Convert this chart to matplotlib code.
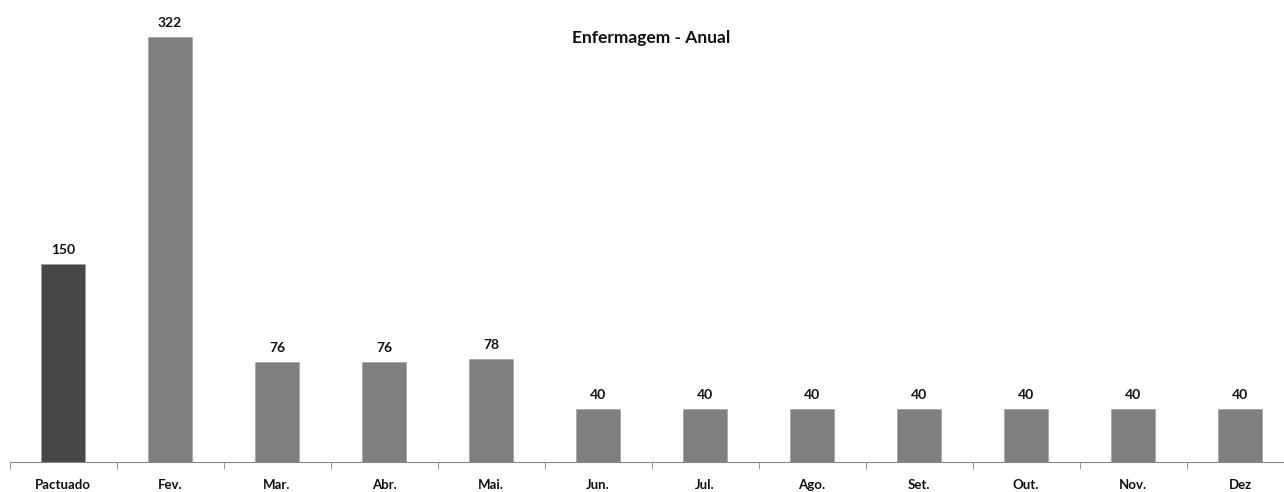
import matplotlib
matplotlib.use("Agg")
import matplotlib.pyplot as plt
import numpy as np

categorias = ["Pactuado", "Fev.", "Mar.", "Abr.", "Mai.", "Jun.", "Jul.", "Ago.", "Set.", "Out.", "Nov.", "Dez"]
valores = [150, 322, 76, 76, 78, 40, 40, 40, 40, 40, 40, 40]
titulo = "Enfermagem - Anual"

plt.rcParams['font.family'] = ['Lato', 'DejaVu Sans']

fig = plt.figure(figsize=(12.84, 4.92), dpi=100)
ax = fig.add_axes([9.5 / 1284, 30 / 492, 1.0, 462 / 492])

x = np.arange(len(categorias))
cores = ['#474747'] + ['#7f7f7f'] * (len(categorias) - 1)
ax.bar(x, valores, width=0.41, color=cores, edgecolor='#9a9a9a', linewidth=0.4)

for xi, v in zip(x, valores):
    ax.text(xi, v + 6, str(v), ha='center', va='bottom', fontsize=10, fontweight='bold', color='#111111')

ax.set_xlim(-0.5, len(categorias) - 0.5)
ax.set_ylim(0, 350)
ax.set_xticks(x)
ax.set_xticklabels(categorias, fontsize=9.5, fontweight='bold', color='#111111')
ax.tick_params(axis='x', length=0, pad=12)
ax.set_xticks(np.arange(len(categorias) + 1) - 0.5, minor=True)
ax.tick_params(axis='x', which='minor', length=5, color='#888888', direction='out')
ax.set_yticks([])
for s in ['top', 'right', 'left']:
    ax.spines[s].set_visible(False)
ax.spines['bottom'].set_color('#888888')
ax.spines['bottom'].set_linewidth(0.8)

ax.text(0.5, 1 - 38 / 462, titulo, transform=ax.transAxes, ha='center', va='center',
        fontsize=12.5, fontweight='bold', color='#111111')
ax.patch.set_alpha(0)

fig.savefig("out.png", dpi=100)
